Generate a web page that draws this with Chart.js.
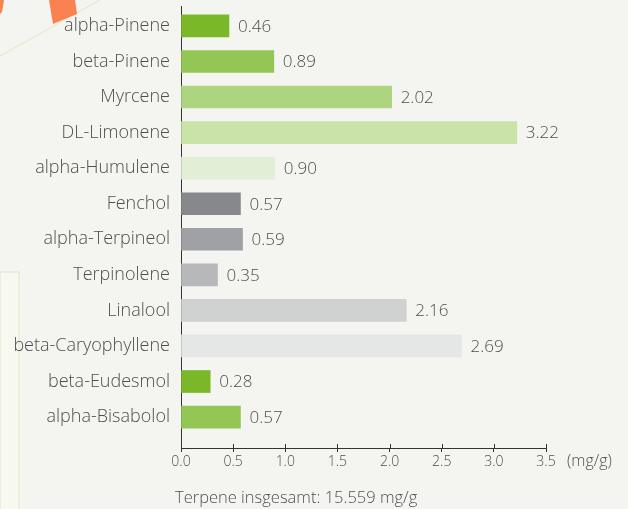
<!DOCTYPE html>
<html>
<head>
<meta charset="utf-8">
<script src="https://cdn.jsdelivr.net/npm/chart.js@4"></script>
<style>
html,body{margin:0;padding:0;background:#f4f5f0;}
#wrap{position:relative;width:628px;height:509px;overflow:hidden;background:#f4f5f0;}
#bg{position:absolute;left:0;top:0;}
#c{position:absolute;left:0;top:0;}
#footer{position:absolute;left:175px;top:486px;font-family:"Open Sans",Lato,sans-serif;font-weight:300;font-size:16.5px;line-height:22px;color:#505050;white-space:nowrap;}
</style>
</head>
<body>
<div id="wrap">
<svg id="bg" width="628" height="509">
  <rect x="0" y="0" width="628" height="509" fill="#f4f5f0"/>
  <rect x="0" y="272" width="19" height="240" fill="#f7f8f0" stroke="#dfe8c8" stroke-width="1"/>
  <line x1="0" y1="56" x2="100" y2="0" stroke="#dfe6c0" stroke-width="1"/>
  <polygon points="49,0 75,0 77,14 53,24" fill="#fa8150"/>
  <polygon points="0,0 4,0 2,12 0,14" fill="#fa8150"/>
</svg>
<canvas id="c" width="628" height="509"></canvas>
<div id="footer">Terpene insgesamt: 15.559 mg/g</div>
</div>
<script>
const categories = ["alpha-Pinene","beta-Pinene","Myrcene","DL-Limonene","alpha-Humulene","Fenchol","alpha-Terpineol","Terpinolene","Linalool","beta-Caryophyllene","beta-Eudesmol","alpha-Bisabolol"];
const values = [0.46,0.89,2.02,3.22,0.90,0.57,0.59,0.35,2.16,2.69,0.28,0.57];
const valueLabels = ["0.46","0.89","2.02","3.22","0.90","0.57","0.59","0.35","2.16","2.69","0.28","0.57"];
const barColors = ["#7ab82a","#93c654","#add57f","#c9e3a9","#e2efd6","#86888b","#a0a1a4","#b7b8ba","#d0d1d1","#e5e6e6","#7ab82a","#93c654"];
const xTicks = [0,0.5,1.0,1.5,2.0,2.5,3.0,3.5];
const unitLabel = "(mg/g)";

const FONT = '"Open Sans", Lato, sans-serif';
const TXT = '#4e4e4e';

const valuePlugin = {
  id: 'valueLabels',
  afterDatasetsDraw(chart) {
    const ctx = chart.ctx;
    const meta = chart.getDatasetMeta(0);
    ctx.save();
    ctx.font = '300 17px ' + FONT;
    ctx.fillStyle = TXT;
    ctx.textAlign = 'left';
    ctx.textBaseline = 'middle';
    meta.data.forEach((bar, i) => {
      ctx.fillText(valueLabels[i], bar.x + 9, bar.y + 1);
    });
    const xs = chart.scales.x;
    ctx.strokeStyle = '#333';
    ctx.lineWidth = 1;
    xTicks.forEach(v => {
      const px = Math.round(xs.getPixelForValue(v)) + 0.5;
      ctx.beginPath();
      ctx.moveTo(px, xs.top - 4);
      ctx.lineTo(px, xs.top);
      ctx.stroke();
    });
    ctx.font = '300 16px ' + FONT;
    ctx.textBaseline = 'middle';
    ctx.fillText(unitLabel, xs.right + 21, xs.top + 13);
    ctx.restore();
  }
};

new Chart(document.getElementById('c'), {
  type: 'bar',
  data: {
    datasets: [{
      data: values.map((v, i) => ({x: v, y: i})),
      backgroundColor: barColors,
      borderWidth: 0,
      barThickness: 22
    }]
  },
  options: {
    indexAxis: 'y',
    responsive: false,
    animation: false,
    layout: {padding: {top: 6, right: 82, left: 0, bottom: 0}},
    plugins: {legend: {display: false}, tooltip: {enabled: false}},
    scales: {
      y: {
        type: 'linear',
        reverse: true,
        offset: false,
        min: -0.56,
        max: 11.87,
        afterBuildTicks: (s) => { s.ticks = categories.map((_, i) => ({value: i})); },
        afterFit: (s) => { s.width = 181; s.paddingTop = 0; s.paddingBottom = 0; },
        ticks: {
          callback: (v) => categories[v],
          font: {family: FONT, size: 18, weight: 300},
          color: TXT,
          padding: 11,
          autoSkip: false
        },
        grid: {display: false, drawTicks: false, offset: false},
        border: {display: true, color: '#333', width: 1}
      },
      x: {
        type: 'linear',
        min: 0,
        max: 3.5,
        afterBuildTicks: (s) => { s.ticks = xTicks.map(v => ({value: v})); },
        afterFit: (s) => { s.height = 509 - 448; },
        ticks: {
          callback: (v) => Number(v).toFixed(1),
          font: {family: FONT, size: 14, weight: 300},
          color: TXT,
          padding: 2,
          autoSkip: false,
          maxRotation: 0
        },
        grid: {display: true, drawOnChartArea: false, tickLength: 4, color: '#333'},
        border: {display: true, color: '#333', width: 1}
      }
    }
  },
  plugins: [valuePlugin]
});
</script>
</body>
</html>
